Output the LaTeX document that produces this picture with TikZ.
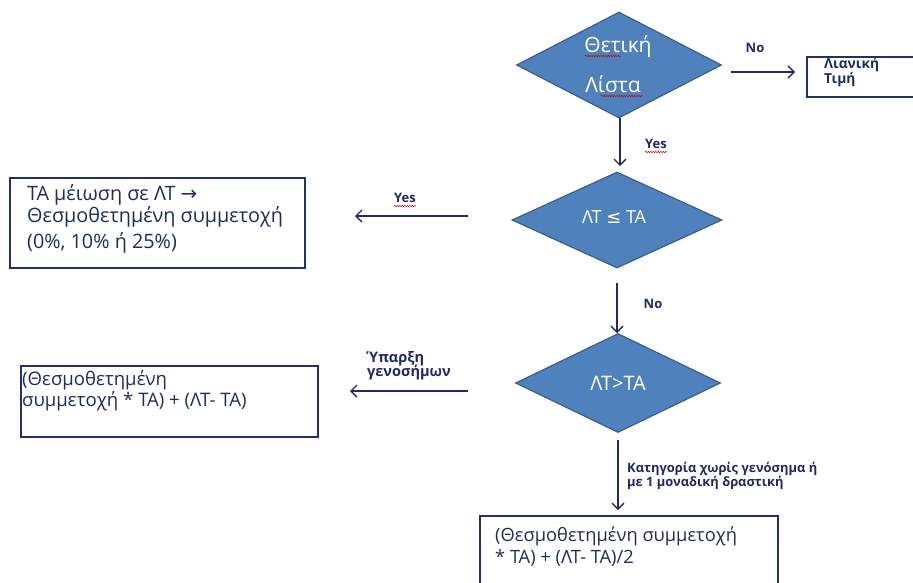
\documentclass[tikz,border=0pt]{standalone}
\usepackage{fontspec}
\setmainfont{Open Sans}
\newfontfamily\symfont{DejaVu Sans}
\usetikzlibrary{shapes.geometric,arrows.meta,decorations.pathmorphing}
\definecolor{dfill}{HTML}{4F81BD}
\definecolor{dline}{HTML}{3A5F8C}
\definecolor{navy}{HTML}{1F2A66}
\definecolor{boxline}{HTML}{22306B}
\definecolor{txt}{HTML}{1F2D5C}
\begin{document}
\begin{tikzpicture}[x=1pt,y=-1pt,
  dia/.style={diamond,draw=dline,fill=dfill,line width=1.2pt,inner sep=0pt},
  dtext/.style={text=white,inner sep=0pt,anchor=base},
  boxnode/.style={draw=boxline,line width=1.6pt,anchor=north west,inner sep=0pt},
  btext/.style={text=txt,anchor=base west,inner sep=0pt},
  lab/.style={text=navy,font=\bfseries\fontsize{13}{14}\selectfont,inner sep=0pt,anchor=base},
  arr/.style={draw=navy,line width=1.5pt,-{Straight Barb[length=6pt,width=12pt,line width=1.3pt]}},
  spell/.style={draw=red!80!black,line width=0.5pt,decorate,decoration={snake,amplitude=0.7pt,segment length=2.5pt}}]
\useasboundingbox[fill=white] (0,0) rectangle (913,582);

% diamonds
\node[dia,minimum width=205pt,minimum height=106pt] (d1) at (619,65) {};
\node[dia,minimum width=210pt,minimum height=96pt] (d2) at (617,220) {};
\node[dia,minimum width=205pt,minimum height=99pt] (d3) at (618,383) {};
\node[dtext,font=\fontsize{21}{24}\selectfont] (d1a) at (618,52) {Θετική};
\node[dtext,font=\fontsize{21}{24}\selectfont] (d1b) at (613,92) {Λίστα};
\node[dtext,font=\fontsize{18}{20}\selectfont] (d2t) at (614,223) {ΛΤ {\symfont ≤} ΤΑ};
\node[dtext,font=\fontsize{20}{22}\selectfont] (d3t) at (618,390) {ΛΤ>ΤΑ};

% boxes
\node[boxnode,minimum width=130pt,minimum height=40pt] (lt) at (806,56) {};
\node[boxnode,minimum width=295pt,minimum height=90pt] (b1) at (9,177) {};
\node[boxnode,minimum width=297pt,minimum height=71pt] (b2) at (20,365) {};
\node[boxnode,minimum width=298pt,minimum height=90pt] (b3) at (479,515) {};

% box texts
\node[btext,font=\bfseries\fontsize{13.8}{14}\selectfont] (lt1) at (824,68) {Λιανική};
\node[btext,font=\bfseries\fontsize{13.8}{14}\selectfont] (lt2) at (824,83) {Τιμή};
\node[btext,font=\fontsize{19.8}{24}\selectfont] (b1a) at (27,200) {ΤΑ μέιωση σε ΛΤ {\symfont →}};
\node[btext,font=\fontsize{19.8}{24}\selectfont] (b1b) at (27,222) {Θεσμοθετημένη συμμετοχή};
\node[btext,font=\fontsize{19.8}{24}\selectfont] (b1c) at (27,248) {(0\%, 10\% ή 25\%)};
\node[btext,font=\fontsize{18.6}{22}\selectfont] (b2a) at (22,385) {(Θεσμοθετημένη};
\node[btext,font=\fontsize{18.6}{22}\selectfont] (b2b) at (22,406) {συμμετοχή * ΤΑ) + (ΛΤ- ΤΑ)};
\node[btext,font=\fontsize{18.3}{22}\selectfont] (b3a) at (495,541) {(Θεσμοθετημένη συμμετοχή};
\node[btext,font=\fontsize{18.3}{22}\selectfont] (b3b) at (495,563) {* ΤΑ) + (ΛΤ- ΤΑ)/2};

% connectors
\coordinate (a1s) at (731,72); \coordinate (a1e) at (795,72);
\coordinate (a2s) at (620,118); \coordinate (a2e) at (620,166);
\coordinate (a3s) at (468,216); \coordinate (a3e) at (355,216);
\coordinate (a4s) at (617,283); \coordinate (a4e) at (617,333);
\coordinate (a5s) at (468,391); \coordinate (a5e) at (350,391);
\coordinate (a6s) at (618,440); \coordinate (a6e) at (618,510);
\draw[arr] (a1s) -- (a1e);
\draw[arr] (a2s) -- (a2e);
\draw[arr] (a3s) -- (a3e);
\draw[arr] (a4s) -- (a4e);
\draw[arr] (a5s) -- (a5e);
\draw[arr] (a6s) -- (a6e);

% labels
\node[lab] (l1) at (755,52) {No};
\node[lab] (l2) at (656,148) {Yes};
\node[lab] (l3) at (405,202) {Yes};
\node[lab] (l4) at (653,308) {No};
\node[lab,anchor=base west,font=\bfseries\fontsize{14.5}{14}\selectfont] (l5a) at (367,362) {Ύπαρξη};
\node[lab,anchor=base west,font=\bfseries\fontsize{14.5}{14}\selectfont] (l5b) at (367,376) {γενοσήμων};
\node[lab,anchor=base west,font=\bfseries\fontsize{12.9}{14.5}\selectfont] (l6a) at (627,472) {Κατηγορία χωρίς γενόσημα ή};
\node[lab,anchor=base west,font=\bfseries\fontsize{12.9}{14.5}\selectfont] (l6b) at (627,486) {με 1 μοναδική δραστική};

% spell-check squiggles
\draw[spell] (585,56) -- (621,56);
\draw[spell] (601,96) -- (643,96);
\draw[spell] (645,152) -- (667,152);
\draw[spell] (394,206) -- (416,206);
\end{tikzpicture}
\end{document}
